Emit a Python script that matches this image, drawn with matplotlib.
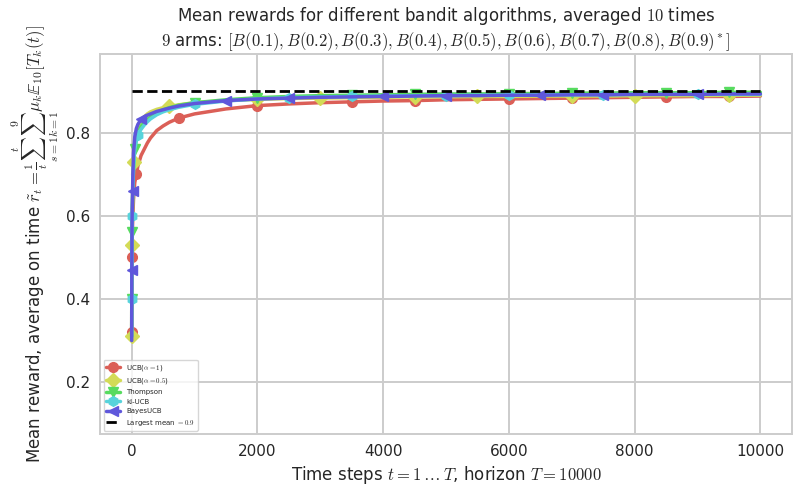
import matplotlib
matplotlib.use("Agg")
import matplotlib.pyplot as plt
import seaborn as sns

sns.set_style("whitegrid")
plt.rcParams['font.family'] = ['DejaVu Sans']
plt.rcParams['mathtext.fontset'] = 'cm'
plt.rcParams['grid.linewidth'] = 1.4
plt.rcParams['axes.linewidth'] = 1.4

times = [1, 2, 3, 5, 7, 10, 15, 20, 30, 40, 50, 75, 100, 150, 200, 250, 300, 400, 500, 600, 750, 1000,
         1500, 2000, 2500, 3000, 3500, 4000, 4500, 5000, 5500, 6000, 6500, 7000, 7500, 8000, 8500,
         9000, 9500, 10000]

ucb1 = [0.32, 0.40, 0.45, 0.50, 0.53, 0.55, 0.58, 0.60, 0.64, 0.66, 0.68, 0.70, 0.72, 0.745, 0.76,
        0.775, 0.787, 0.805, 0.816, 0.825, 0.835, 0.845, 0.857, 0.865, 0.869, 0.872, 0.874, 0.876,
        0.877, 0.879, 0.880, 0.881, 0.882, 0.883, 0.884, 0.885, 0.886, 0.887, 0.887, 0.888]
ucb05 = [0.31, 0.40, 0.47, 0.53, 0.57, 0.61, 0.65, 0.68, 0.73, 0.76, 0.78, 0.80, 0.815, 0.83, 0.838,
         0.845, 0.85, 0.856, 0.86, 0.863, 0.867, 0.872, 0.877, 0.880, 0.882, 0.883, 0.884, 0.885,
         0.886, 0.886, 0.887, 0.887, 0.888, 0.888, 0.888, 0.889, 0.889, 0.889, 0.890, 0.890]
thompson = [0.31, 0.40, 0.46, 0.52, 0.56, 0.60, 0.64, 0.67, 0.71, 0.74, 0.76, 0.785, 0.80, 0.815, 0.825,
            0.832, 0.838, 0.848, 0.855, 0.86, 0.866, 0.872, 0.879, 0.884, 0.887, 0.889, 0.890, 0.891,
            0.892, 0.893, 0.893, 0.894, 0.894, 0.895, 0.895, 0.896, 0.896, 0.896, 0.897, 0.897]
klucb = [0.31, 0.40, 0.46, 0.52, 0.56, 0.60, 0.64, 0.67, 0.71, 0.74, 0.76, 0.78, 0.795, 0.808, 0.818,
         0.826, 0.833, 0.843, 0.85, 0.855, 0.861, 0.868, 0.876, 0.881, 0.884, 0.886, 0.887, 0.888,
         0.889, 0.889, 0.890, 0.890, 0.891, 0.891, 0.891, 0.892, 0.892, 0.892, 0.892, 0.892]
bayesucb = [0.30, 0.40, 0.47, 0.55, 0.59, 0.62, 0.66, 0.70, 0.75, 0.77, 0.79, 0.81, 0.82, 0.832, 0.838,
            0.842, 0.845, 0.851, 0.855, 0.859, 0.864, 0.870, 0.877, 0.881, 0.883, 0.885, 0.886, 0.887,
            0.888, 0.889, 0.889, 0.890, 0.890, 0.891, 0.891, 0.892, 0.892, 0.892, 0.893, 0.893]

labels = [r"UCB($\alpha=1$)", r"UCB($\alpha=0.5$)", "Thompson", "kl-UCB", "BayesUCB"]
series = [ucb1, ucb05, thompson, klucb, bayesucb]
markers = ['o', 'D', 'v', 'h', '<']
best_mean = 0.9
horizon = 10000

colors = sns.color_palette("hls", len(series) + 1)

fig, ax = plt.subplots(figsize=(8.08, 4.95), dpi=100)
for i, (vals, lab, mk) in enumerate(zip(series, labels, markers)):
    ax.plot(times, vals, marker=mk, markevery=(i / 50.0, 0.1), color=colors[i],
            label=lab, lw=2.5, ms=7)
ax.plot([times[0], times[-1]], [best_mean, best_mean], 'k--', lw=2,
        label=r"Largest mean $= 0.9$")

ax.set_xlim(-500, 10500)
ax.set_ylim(0.075, 0.988)
ax.set_yticks([0.2, 0.4, 0.6, 0.8])
ax.tick_params(labelsize=11)
ax.legend(loc='lower left', fontsize=5, frameon=True)
ax.set_xlabel(r"Time steps $t = 1 \dots T$, horizon $T = 10000$", fontsize=12)
ax.set_ylabel(r"Mean reward, average on time $\tilde{r}_t = \frac{1}{t}\sum_{s=1}^{t}\sum_{k=1}^{9}\mu_k\mathbb{E}_{10}[T_k(t)]$", fontsize=12)
ax.set_title("Mean rewards for different bandit algorithms, averaged $10$ times\n"
             r"$9$ arms: $[B(0.1), B(0.2), B(0.3), B(0.4), B(0.5), B(0.6), B(0.7), B(0.8), B(0.9)^*]$",
             fontsize=12)
fig.subplots_adjust(left=0.124, right=0.98, top=0.89, bottom=0.123)
fig.savefig("out.png", dpi=100)
